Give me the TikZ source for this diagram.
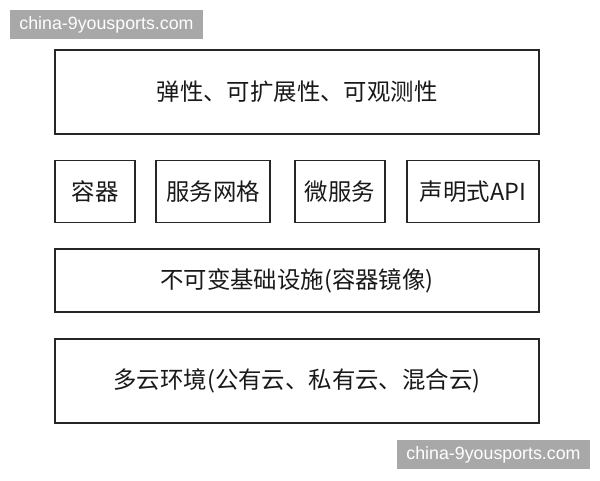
\documentclass[tikz,border=0pt]{standalone}
\usepackage{fontspec}
\newfontfamily\cjk{Noto Sans CJK SC}
\newfontfamily\wmfont{Liberation Sans}
\begin{document}
\begin{tikzpicture}[x=1pt,y=-1pt,
  layer/.style={draw=black!85,line width=1.4pt,inner sep=0pt,font=\cjk\fontsize{23.4}{27}\selectfont,text=black!90},
  wm/.style={fill=black!34,text=white,inner sep=0pt,font=\wmfont\fontsize{17.8}{20}\selectfont}]
\useasboundingbox[fill=white] (0,0) rectangle (600,480);
\node[layer,minimum width=484,minimum height=84] (top) at (297,92) {弹性、可扩展性、可观测性};
\node[layer,minimum width=80,minimum height=62] (c1) at (95,191.5) {容器};
\node[layer,minimum width=114,minimum height=62] (c2) at (213,191.5) {服务网格};
\node[layer,minimum width=90,minimum height=62] (c3) at (340,191.5) {微服务};
\node[layer,minimum width=132,minimum height=62] (c4) at (473,191.5) {声明式API};
\node[layer,minimum width=484,minimum height=63] (imm) at (297,280.5) {不可变基础设施(容器镜像)};
\node[layer,minimum width=484,minimum height=84] (cloud) at (297,381) {多云环境(公有云、私有云、混合云)};
\node[wm,minimum width=193,minimum height=29] (w1) at (106.5,24.5) {china-9yousports.com};
\node[wm,minimum width=193,minimum height=29] (w2) at (493.5,454.5) {china-9yousports.com};
\end{tikzpicture}
\end{document}
